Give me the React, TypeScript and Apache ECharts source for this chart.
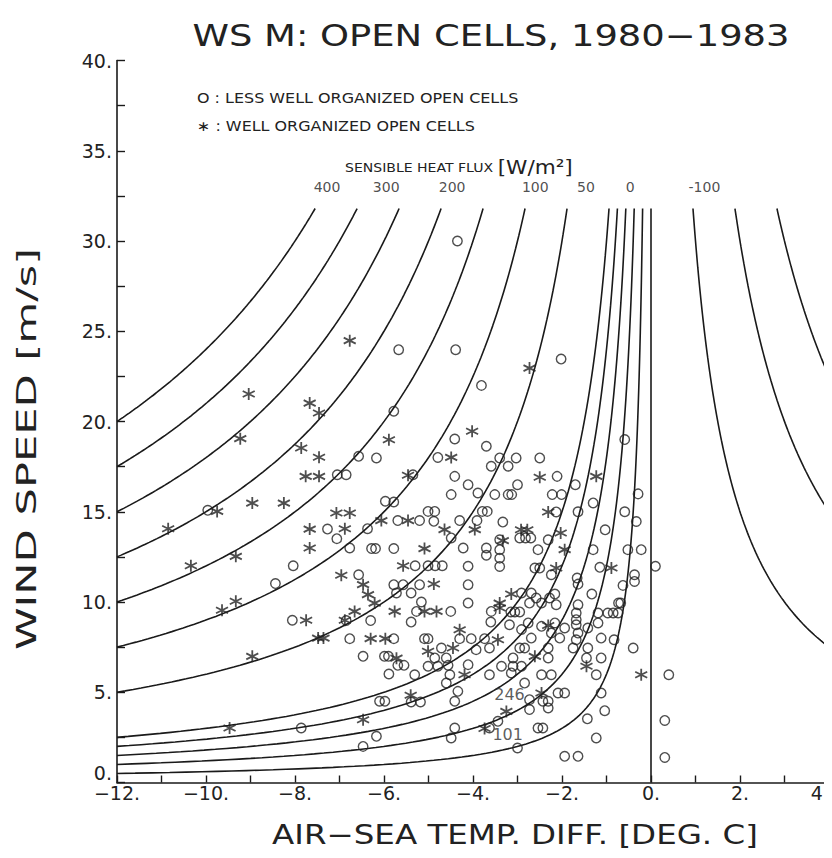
import React, { useEffect, useRef } from "react";
import * as echarts from "echarts";

// ---- data -------------------------------------------------------------
const OPEN_CELLS: [number, number][] = [
  [-9.96, 15.08], [-7.27, 14.04], [-7.06, 13.51], [-8.04, 12.01], [-8.44, 11.02], [-8.06, 8.99], [-7.86, 3.02],
  [-5.67, 23.98], [-4.39, 23.98], [-3.81, 22.0], [-5.78, 20.57], [-4.41, 19.03], [-3.7, 18.63], [-2.02, 23.46], [-4.35, 30.0],
  [-6.57, 18.07], [-6.17, 17.98], [-7.05, 17.05], [-6.85, 17.05], [-5.35, 17.05], [-4.79, 18.01], [-4.41, 16.96], [-3.59, 17.52],
  [-4.11, 16.5], [-3.89, 16.04], [-4.49, 15.95], [-5.97, 15.58], [-5.78, 15.54], [-5.01, 15.02], [-4.86, 15.02], [-3.79, 15.02],
  [-3.68, 15.02], [-5.69, 14.51], [-5.2, 14.51], [-4.88, 14.47], [-4.3, 14.51], [-3.91, 14.51], [-6.37, 14.06], [-4.49, 13.55],
  [-6.77, 12.99], [-6.28, 12.96], [-6.19, 12.96], [-5.78, 12.96], [-4.22, 12.99], [-3.7, 12.99], [-3.7, 12.59], [-6.57, 11.51],
  [-5.3, 12.01], [-5.01, 12.01], [-4.85, 12.01], [-4.69, 12.01], [-4.11, 11.98], [-5.78, 10.96], [-5.57, 10.96], [-5.72, 10.5],
  [-5.39, 10.5], [-5.2, 10.96], [-4.11, 10.96], [-5.16, 10.0], [-5.27, 9.48], [-4.5, 9.48], [-4.11, 9.94], [-3.59, 9.48],
  [-6.85, 8.97], [-6.3, 8.97], [-3.6, 8.89], [-6.77, 7.97], [-5.78, 7.97], [-6.47, 6.99], [-5.99, 6.99], [-5.9, 6.99],
  [-5.69, 6.49], [-5.55, 6.49], [-5.89, 6.01], [-5.39, 8.89], [-5.09, 7.97], [-5.01, 7.97], [-4.3, 7.97], [-4.04, 7.97],
  [-3.74, 7.97], [-3.93, 7.36], [-4.71, 7.45], [-4.86, 6.9], [-4.6, 6.9], [-5.01, 6.44], [-4.79, 6.44], [-4.56, 6.49],
  [-4.11, 6.53], [-4.52, 5.97], [-4.6, 5.51], [-5.31, 5.97], [-6.1, 4.5], [-5.98, 4.5], [-5.39, 4.46], [-5.18, 4.46],
  [-4.34, 5.05], [-4.41, 4.5], [-6.17, 2.56], [-6.47, 2.0], [-4.41, 3.02], [-4.49, 2.47],
  [-3.4, 17.98], [-3.03, 17.98], [-3.21, 17.52], [-2.5, 17.98], [-2.11, 16.96], [-3.0, 16.5], [-3.51, 15.95], [-3.21, 15.95],
  [-3.13, 15.95], [-2.22, 15.95], [-2.01, 15.95], [-1.7, 16.5], [-1.3, 15.49], [-0.59, 19.0], [-0.29, 15.99],
  [-2.13, 14.99], [-1.64, 15.0], [-0.59, 15.0], [-3.33, 14.43], [-2.95, 13.55], [-2.82, 13.55], [-2.7, 13.55], [-3.4, 13.45],
  [-3.4, 12.9], [-3.4, 12.43], [-3.4, 11.97], [-2.31, 13.45], [-2.54, 12.9], [-1.3, 12.9], [-1.03, 14.0], [-0.33, 14.46],
  [-0.52, 12.9], [-0.22, 12.9], [-2.61, 11.88], [-2.5, 11.88], [-2.24, 11.51], [-1.66, 11.33], [-1.15, 11.92], [-0.37, 11.51],
  [-0.37, 11.14], [-0.63, 10.92], [-1.64, 10.99], [-2.91, 10.5], [-2.69, 10.5], [-2.58, 10.22], [-2.28, 10.22], [-2.16, 10.44],
  [-2.73, 9.94], [-2.46, 9.94], [-2.13, 9.85], [-1.33, 10.44], [-1.64, 9.85], [-3.15, 9.45], [-3.06, 9.45], [-2.95, 9.45],
  [-1.68, 9.39], [-1.68, 9.02], [-1.19, 9.39], [-0.97, 9.39], [-0.85, 9.39], [-0.74, 9.39], [-0.68, 9.94],
  [-3.18, 8.74], [-2.91, 8.47], [-2.76, 8.84], [-2.46, 8.65], [-2.16, 8.84], [-1.94, 8.56], [-1.68, 8.74], [-1.42, 8.56],
  [-1.19, 8.84], [-1.64, 8.28], [-2.24, 8.28],
  [0.1, 11.98], [-0.73, 9.95], [0.4, 5.97], [0.31, 3.44], [0.31, 1.39],
  [-2.69, 8.0], [-2.05, 8.0], [-1.68, 7.91], [-1.12, 8.0], [-0.83, 7.91], [-0.4, 7.45], [-3.63, 7.45], [-2.95, 7.45],
  [-2.84, 7.45], [-2.31, 7.45], [-1.75, 7.45], [-1.42, 7.45], [-3.1, 6.9], [-2.31, 6.9], [-1.45, 6.9], [-1.12, 6.9],
  [-3.36, 6.44], [-3.1, 6.44], [-2.91, 6.44], [-3.14, 6.07], [-3.63, 5.97], [-2.46, 5.97], [-2.24, 5.97], [-1.23, 5.97],
  [-2.84, 5.51], [-2.09, 4.96], [-1.94, 4.96], [-1.12, 4.96], [-2.73, 4.59], [-2.43, 4.5], [-2.31, 4.5], [-1.04, 3.98],
  [-2.73, 4.04], [-2.31, 4.13], [-3.44, 3.39], [-3.63, 3.02], [-2.54, 3.02], [-2.43, 3.02], [-1.43, 3.53], [-1.23, 2.47],
  [-3.0, 1.91], [-1.94, 1.45], [-1.64, 1.45],
];

const WELL_ORGANIZED: [number, number][] = [
  [-9.04, 21.52], [-7.67, 21.02], [-7.46, 20.47], [-9.23, 19.05], [-7.86, 18.53], [-7.46, 18.02], [-7.76, 16.96], [-7.46, 16.96],
  [-9.75, 15.02], [-8.96, 15.48], [-8.25, 15.48], [-10.85, 14.06], [-7.67, 14.04], [-7.67, 12.99], [-10.34, 12.01], [-9.33, 12.53],
  [-9.33, 10.04], [-9.64, 9.54], [-7.75, 8.99], [-7.48, 8.0], [-7.36, 8.0], [-8.96, 6.99], [-9.47, 3.02],
  [-6.77, 24.48], [-5.89, 18.99], [-4.02, 19.46], [-2.73, 22.96],
  [-5.46, 17.02], [-4.49, 18.01], [-7.07, 14.93], [-6.77, 14.93], [-5.46, 14.51], [-6.88, 14.06], [-6.06, 14.51], [-4.64, 14.01],
  [-3.96, 14.01], [-5.09, 12.96], [-6.96, 11.48], [-5.57, 12.01], [-6.47, 10.96], [-6.36, 10.41], [-6.21, 9.94], [-4.88, 11.0],
  [-5.09, 9.48], [-4.82, 9.48], [-6.66, 9.48], [-5.76, 9.48],
  [-6.88, 8.99], [-6.3, 7.97], [-5.97, 7.97], [-5.72, 6.89], [-4.3, 8.46], [-5.01, 7.27], [-4.45, 7.45], [-4.19, 5.97],
  [-5.4, 4.83], [-6.47, 3.48], [-3.74, 2.99],
  [-2.5, 16.91], [-1.23, 16.96], [-2.31, 14.99],
  [-2.92, 14.0], [-2.78, 14.0], [-3.33, 13.4], [-2.03, 13.82], [-1.94, 12.9], [-2.13, 11.88], [-0.89, 11.88], [-3.14, 10.44],
  [-3.4, 9.94], [-3.4, 9.67], [-2.31, 8.7],
  [-3.44, 7.91], [-2.61, 6.99], [-1.45, 6.44], [-0.22, 5.97], [-2.46, 4.96], [-3.25, 3.94],
];

// Sensible heat flux isolines  H = C * U * (Ts - Ta)
const FLUX_UNSTABLE = [400, 350, 300, 250, 200, 150, 100, 50, 40, 30, 20, 10];
const FLUX_STABLE = [-50, -100, -150];
const FLUX_LABELS = ["400", "300", "200", "100", "50", "0", "-100"];
const FLUX_LABEL_X = [-7.28, -5.95, -4.47, -2.6, -1.46, -0.47, 1.2];
const TRANSFER_COEF = 5 / 3; // W m^-2 per (m/s * K)
const U_TOP = 31.8;
const FLUX_LABEL_Y = 33.0;

const ANNOTATIONS: { text: string; x: number; y: number }[] = [
  { text: "246", x: -3.18, y: 4.85 },
  { text: "101", x: -3.22, y: 2.65 },
];

const X_MIN = -12, X_MAX = 4, Y_MIN = 0, Y_MAX = 40;

function isoline(h: number): [number, number][] {
  if (h === 0) return [[0, 0], [0, U_TOP]];
  const edge = h > 0 ? X_MIN : X_MAX;
  const uMin = Math.abs(h) / (TRANSFER_COEF * Math.abs(edge));
  const n = 120;
  const pts: [number, number][] = [];
  for (let i = 0; i <= n; i++) {
    const u = uMin * Math.pow(U_TOP / uMin, i / n);
    pts.push([-h / (TRANSFER_COEF * u), u]);
  }
  return pts;
}

const FONT = "'DejaVu Sans', sans-serif";
const INK = "#1a1a1a";
const STAR = "path://M5,0L5,10M0.67,2.5L9.33,7.5M0.67,7.5L9.33,2.5";

function fmt(v: number) {
  return (v < 0 ? "\u2212" : "") + Math.abs(v) + ".";
}

export default function App() {
  const ref = useRef<HTMLDivElement>(null);
  useEffect(() => {
    if (!ref.current) return;
    const chart = echarts.init(ref.current, undefined, { renderer: "svg" });
    const lineSeries = [...FLUX_UNSTABLE, 0, ...FLUX_STABLE].map((h) => ({
      type: "line" as const,
      data: isoline(h),
      showSymbol: false,
      silent: true,
      clip: true,
      lineStyle: { color: INK, width: 1.6 },
      z: 1,
    }));
    chart.setOption({
      animation: false,
      backgroundColor: "#fff",
      textStyle: { fontFamily: FONT },
      grid: { left: 109, right: 11, top: 52.5, bottom: 83.5, show: false },
      xAxis: {
        type: "value",
        min: X_MIN,
        max: X_MAX,
        interval: 2,
        axisLine: { show: true, onZero: false, lineStyle: { color: INK, width: 1.6 } },
        axisTick: { show: true, inside: true, length: 7, lineStyle: { color: INK, width: 1.4 } },
        minorTick: { show: true, splitNumber: 2, length: 7, lineStyle: { color: INK, width: 1.4 } },
        splitLine: { show: false },
        axisLabel: {
          formatter: fmt,
          fontFamily: FONT,
          fontSize: 19,
          color: "#222",
          margin: 1,
          alignMaxLabel: "right",
        },
      },
      yAxis: {
        type: "value",
        min: Y_MIN,
        max: Y_MAX,
        interval: 5,
        axisLine: { show: true, onZero: false, lineStyle: { color: INK, width: 1.6 } },
        axisTick: { show: true, inside: true, length: 8, lineStyle: { color: INK, width: 1.4 } },
        minorTick: { show: true, splitNumber: 2, length: 8, lineStyle: { color: INK, width: 1.4 } },
        splitLine: { show: false },
        axisLabel: {
          formatter: fmt,
          fontFamily: FONT,
          fontSize: 19,
          color: "#222",
          margin: 5,
          showMinLabel: false,
        },
      },
      series: [
        ...lineSeries,
        {
          type: "line",
          name: "right frame",
          data: [[X_MAX, Y_MIN], [X_MAX, U_TOP]],
          showSymbol: false,
          silent: true,
          lineStyle: { color: INK, width: 1.6 },
          z: 1,
        },
        {
          type: "scatter",
          name: "less well organized",
          data: OPEN_CELLS,
          symbol: "circle",
          symbolSize: 9.5,
          itemStyle: { color: "rgba(0,0,0,0)", borderColor: "#222", borderWidth: 1.4 },
          z: 3,
        },
        {
          type: "scatter",
          name: "well organized",
          data: WELL_ORGANIZED,
          symbol: STAR,
          symbolSize: 12,
          itemStyle: { color: "rgba(0,0,0,0)", borderColor: "#222", borderWidth: 1.8 },
          z: 3,
        },
        {
          type: "scatter",
          name: "flux labels",
          silent: true,
          symbolSize: 0,
          data: FLUX_LABELS.map((t, i) => [FLUX_LABEL_X[i], FLUX_LABEL_Y, t]),
          label: {
            show: true,
            formatter: (p: any) => p.data[2],
            position: "inside",
            fontFamily: FONT,
            fontSize: 14,
            color: "#222",
          },
          z: 4,
        },
        {
          type: "scatter",
          name: "annotations",
          silent: true,
          symbolSize: 0,
          data: ANNOTATIONS.map((a) => [a.x, a.y, a.text]),
          label: {
            show: true,
            formatter: (p: any) => p.data[2],
            position: "inside",
            fontFamily: FONT,
            fontSize: 16,
            color: "#333",
          },
          z: 4,
        },
      ],
      graphic: [
        {
          type: "text",
          x: 483,
          y: 28,
          scaleX: 1.23,
          style: {
            text: "WS M: OPEN CELLS, 1980\u22121983",
            font: `30px ${FONT}`,
            fill: "#222",
            align: "center",
            verticalAlign: "middle",
          },
        },
        {
          type: "text",
          x: 507,
          y: 827,
          scaleX: 1.25,
          style: {
            text: "AIR\u2212SEA TEMP. DIFF. [DEG. C]",
            font: `26px ${FONT}`,
            fill: "#222",
            align: "center",
            verticalAlign: "middle",
          },
        },
        {
          type: "text",
          x: 19,
          y: 441,
          rotation: Math.PI / 2,
          scaleX: 1.66,
          style: {
            text: "WIND SPEED [m/s]",
            font: `26px ${FONT}`,
            fill: "#222",
            align: "center",
            verticalAlign: "middle",
          },
        },
        {
          type: "text",
          x: 104,
          y: 765,
          style: {
            text: "0.",
            font: `19px ${FONT}`,
            fill: "#222",
            align: "right",
            verticalAlign: "middle",
          },
        },
        {
          type: "text",
          x: 337,
          y: 159,
          scaleX: 1.08,
          style: {
            text: "{a|SENSIBLE HEAT FLUX }{b|[W/m\u00b2]}",
            fill: "#222",
            verticalAlign: "middle",
            rich: {
              a: { font: `13px ${FONT}`, fill: "#222" },
              b: { font: `20px ${FONT}`, fill: "#222" },
            },
          },
        },
        {
          type: "text",
          x: 189,
          y: 90,
          scaleX: 1.14,
          style: { text: "O : LESS WELL ORGANIZED OPEN CELLS", font: `14px ${FONT}`, fill: "#222", verticalAlign: "middle" },
        },
        {
          type: "text",
          x: 189,
          y: 118,
          scaleX: 1.14,
          style: { text: "\u2217 : WELL ORGANIZED OPEN CELLS", font: `14px ${FONT}`, fill: "#222", verticalAlign: "middle" },
        },
      ],
    });
    return () => chart.dispose();
  }, []);
  return <div ref={ref} style={{ width: 832, height: 858 }} />;
}
